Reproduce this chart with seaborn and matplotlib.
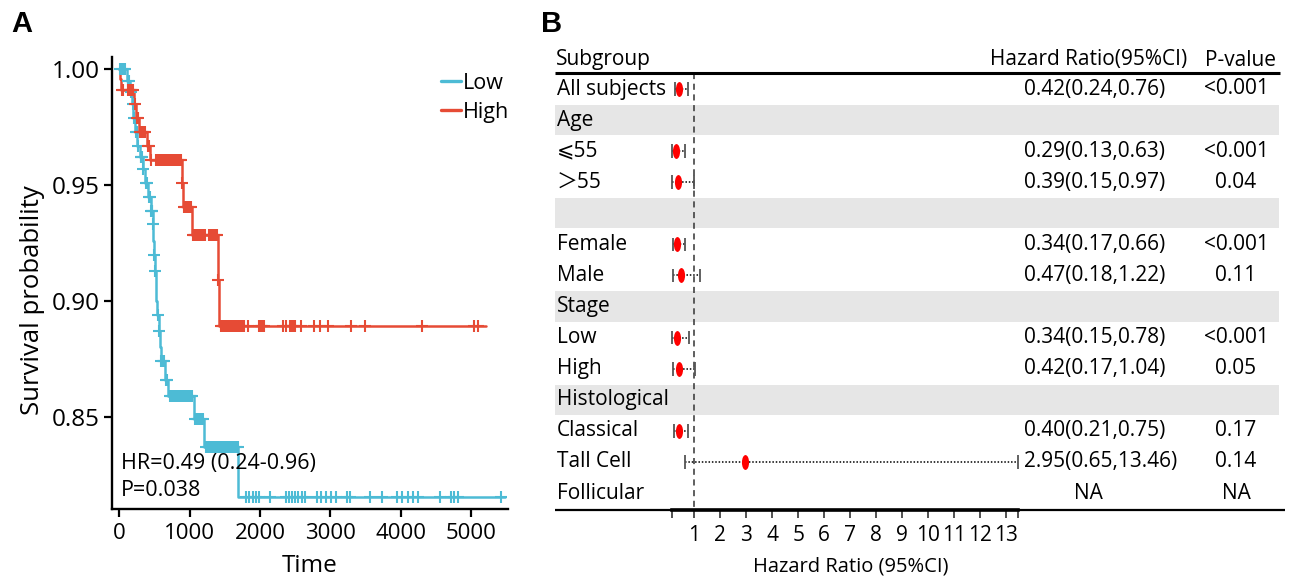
import numpy as np
import pandas as pd
import matplotlib
matplotlib.use("Agg")
import matplotlib.pyplot as plt
import matplotlib.path as mpath
import matplotlib.transforms as mtrans
import seaborn as sns

# ------------------------------------------------------------------
# Panel A data: Kaplan-Meier step curves
# ------------------------------------------------------------------
low_event_times = [0, 110, 160, 185, 200, 220, 260, 295, 335, 365, 410, 450, 475, 485,
                   495, 505, 520, 530, 543, 566, 580, 595, 646, 700, 1060, 1210, 1690]
low_surv = [1.0, 0.995, 0.990, 0.985, 0.979, 0.973, 0.967, 0.962, 0.957, 0.951, 0.945,
            0.939, 0.933, 0.926, 0.920, 0.913, 0.907, 0.900, 0.894, 0.887, 0.880, 0.874,
            0.866, 0.859, 0.849, 0.837, 0.8155]
low_end = 5480
low_censor = [20, 45, 65, 85, 130, 145, 170, 192, 208, 235, 250, 275, 305, 315, 325, 345,
              380, 395, 425, 440, 455, 462, 468, 478, 500, 510, 550, 570, 600, 620, 635,
              660, 680, 720, 740, 760, 780, 800, 820, 840, 860, 900, 920, 940, 960, 980,
              1000, 1020, 1040, 1080, 1100, 1120, 1140, 1160, 1190, 1235, 1260, 1285, 1310,
              1335, 1360, 1385, 1410, 1435, 1460, 1485, 1510, 1535, 1560, 1585, 1610, 1635,
              1660, 1685, 1805, 1850, 1895, 1940, 1986, 2145, 2364, 2410, 2455, 2500, 2545,
              2590, 2636, 2805, 2873, 2940, 3010, 3077, 3236, 3282, 3555, 3736, 3940, 4010,
              4100, 4168, 4236, 4555, 4714, 4760, 4805, 5418]

high_event_times = [0, 15, 25, 215, 240, 290, 400, 445, 890, 905, 1035, 1400, 1425]
high_surv = [1.0, 0.9955, 0.991, 0.985, 0.979, 0.973, 0.967, 0.961, 0.951, 0.9405,
             0.9285, 0.909, 0.889]
high_end = 5210
high_censor = [45, 60, 130, 145, 160, 175, 190, 205, 225, 255, 270, 300, 315, 330, 345,
               360, 375, 415, 430, 460, 520, 540, 560, 580, 600, 620, 640, 660, 680, 700,
               720, 740, 760, 780, 800, 820, 840, 860, 880, 895, 920, 940, 960, 980, 1000,
               1020, 1045, 1065, 1085, 1105, 1125, 1145, 1165, 1185, 1205, 1225, 1270,
               1290, 1310, 1330, 1350, 1370, 1390, 1410, 1440, 1460, 1480, 1500, 1520,
               1540, 1560, 1580, 1600, 1630, 1650, 1670, 1690, 1710, 1730, 1750, 1770,
               1827, 1990, 2010, 2030, 2055, 2327, 2373, 2420, 2445, 2470, 2495, 2577,
               2760, 2850, 2964, 3290, 3486, 4305, 5032, 5100]

group_names = ["Low", "High"]
group_colors = ["#4DBBD5", "#E64B35"]
x_ticks_a = [0, 1000, 2000, 3000, 4000, 5000]
y_ticks_a = [0.85, 0.90, 0.95, 1.00]
hr_text = "HR=0.49 (0.24-0.96)"
p_text = "P=0.038"

# ------------------------------------------------------------------
# Panel B data: subgroup forest plot
# ------------------------------------------------------------------
subgroups = ["All subjects", "Age", "⩽55", "＞55", "", "Female", "Male", "Stage",
             "Low", "High", "Histological", "Classical", "Tall Cell", "Follicular"]
is_band = [False, True, False, False, True, False, False, True,
           False, False, True, False, False, False]
hr = [0.42, np.nan, 0.29, 0.39, np.nan, 0.34, 0.47, np.nan, 0.34, 0.42, np.nan, 0.40, 2.95, np.nan]
hr_lo = [0.24, np.nan, 0.13, 0.15, np.nan, 0.17, 0.18, np.nan, 0.15, 0.17, np.nan, 0.21, 0.65, np.nan]
hr_hi = [0.76, np.nan, 0.63, 0.97, np.nan, 0.66, 1.22, np.nan, 0.78, 1.04, np.nan, 0.75, 13.46, np.nan]
hr_labels = ["0.42(0.24,0.76)", "", "0.29(0.13,0.63)", "0.39(0.15,0.97)", "",
             "0.34(0.17,0.66)", "0.47(0.18,1.22)", "", "0.34(0.15,0.78)", "0.42(0.17,1.04)",
             "", "0.40(0.21,0.75)", "2.95(0.65,13.46)", "NA"]
p_labels = ["<0.001", "", "<0.001", "0.04", "", "<0.001", "0.11", "", "<0.001", "0.05",
            "", "0.17", "0.14", "NA"]
x_ticks_b = list(range(1, 14))

# ------------------------------------------------------------------
sns.set_theme(style="ticks")
plt.rcParams["font.family"] = ["Open Sans", "DejaVu Sans", "Noto Sans CJK SC"]
plt.rcParams["axes.edgecolor"] = "black"
plt.rcParams["xtick.color"] = "black"
plt.rcParams["ytick.color"] = "black"
plt.rcParams["text.color"] = "black"
plt.rcParams["axes.labelcolor"] = "black"

W, H = 1295, 579
fig = plt.figure(figsize=(W / 100, H / 100), dpi=100)


def px_axes(x0, y0, x1, y1):
    return fig.add_axes([x0 / W, 1 - y1 / H, (x1 - x0) / W, (y1 - y0) / H])


# ---------------------------- Panel A -----------------------------
axA = px_axes(112, 57, 508, 509)


def step_frame(times, surv, end):
    t = list(times) + [end]
    s = list(surv) + [surv[-1]]
    return pd.DataFrame({"time": t, "surv": s})


def surv_at(tc, times, surv):
    idx = np.searchsorted(np.asarray(times), np.asarray(tc), side="right") - 1
    return np.asarray(surv)[idx]


curves = [(low_event_times, low_surv, low_end, low_censor),
          (high_event_times, high_surv, high_end, high_censor)]
for (times, surv, end, cens), name, col in zip(curves, group_names, group_colors):
    df = step_frame(times, surv, end)
    sns.lineplot(data=df, x="time", y="surv", drawstyle="steps-post", estimator=None,
                 sort=False, color=col, lw=1.8, ax=axA, label=name)
    cdf = pd.DataFrame({"time": cens, "surv": surv_at(cens, times, surv)})
    sns.scatterplot(data=cdf, x="time", y="surv", marker="+", s=70, color=col,
                    linewidth=1.5, ax=axA, zorder=3, legend=False)

axA.set_xlim(-100, 5520)
axA.set_ylim(0.8103, 1.0052)
axA.set_xticks(x_ticks_a)
axA.set_yticks(y_ticks_a)
axA.set_yticklabels([f"{v:.2f}" for v in y_ticks_a])
sns.despine(ax=axA)
for sp in ["left", "bottom"]:
    axA.spines[sp].set_linewidth(1.7)
axA.tick_params(axis="both", length=6, width=1.6, direction="out")
axA.tick_params(axis="x", labelsize=16, pad=4)
axA.tick_params(axis="y", labelsize=17.5, pad=3)
axA.set_xlabel("Time", fontsize=17.5)
axA.set_ylabel("Survival probability", fontsize=18.5)
axA.xaxis.set_label_coords(0.5, -0.100)
axA.yaxis.set_label_coords(-0.168, 0.462)

hA, lA = axA.get_legend_handles_labels()
leg = axA.legend(hA, lA, loc="upper left", bbox_to_anchor=(0.83, 0.965), frameon=False,
                 fontsize=15.5, handlelength=0.95, handletextpad=0.1, labelspacing=0.38,
                 borderpad=0, borderaxespad=0)
for line in leg.get_lines():
    line.set_linewidth(2.4)

axA.text(0.022, 0.0996, hr_text, transform=axA.transAxes, fontsize=15.5, va="center", ha="left")
axA.text(0.022, 0.042, p_text, transform=axA.transAxes, fontsize=15.5, va="center", ha="left")

# ---------------------------- Panel B -----------------------------
L, R, TOP, BOT = 555, 1285, 45, 510
axB = px_axes(L, TOP, R, BOT)
row0_px, row_h = 89.0, 31.08
hr0_px, hr_unit = 668.3, 26.0
axB.set_xlim((L - hr0_px) / hr_unit, (R - hr0_px) / hr_unit)
axB.set_ylim((BOT - row0_px) / row_h, (TOP - row0_px) / row_h)
y_bottom = (BOT - row0_px) / row_h
y_header = (60 - row0_px) / row_h
y_hline = (73 - row0_px) / row_h

def fx(px):
    return (px - L) / (R - L)

blend = mtrans.blended_transform_factory(axB.transAxes, axB.transData)

n = len(subgroups)
rows = np.arange(n)
for r in rows:
    if is_band[r]:
        axB.axhspan(r - 0.485, r + 0.485, xmin=0, xmax=fx(1279), color="#E6E6E6", lw=0, zorder=0)

fdf = pd.DataFrame({"row": rows, "hr": hr, "lo": hr_lo, "hi": hr_hi}).dropna()
axB.hlines(fdf["row"], fdf["lo"], fdf["hi"], colors="black", linestyles=(0, (1, 1.2)), lw=1.1, zorder=2)
axB.vlines(np.r_[fdf["lo"].values, fdf["hi"].values], np.r_[fdf["row"].values, fdf["row"].values] - 0.22,
           np.r_[fdf["row"].values, fdf["row"].values] + 0.22, colors="#555555", lw=1.3, zorder=2)

circ = mpath.Path.unit_circle()
ellipse = mpath.Path(circ.vertices * np.array([0.48, 1.0]), circ.codes)
sns.scatterplot(data=fdf, x="hr", y="row", marker=ellipse, s=115, color="#FF0000",
                linewidth=0, ax=axB, zorder=4, legend=False)

axB.vlines(1, y_hline, y_bottom, colors="#333333", linestyles=(0, (4, 3)), lw=1.1, zorder=1)

# header and borders
axB.plot([0, fx(1280)], [y_hline, y_hline], transform=blend, color="black", lw=2.2,
         clip_on=False, solid_capstyle="butt")
axB.plot([0, 1], [y_bottom, y_bottom], transform=blend, color="black", lw=1.6,
         clip_on=False, solid_capstyle="butt")

fs = 15
axB.text(fx(556), y_header, "Subgroup", transform=blend, fontsize=fs, ha="left", va="center")
axB.text(fx(1088.5), y_header, "Hazard Ratio(95%CI)", transform=blend, fontsize=fs, ha="center", va="center")
axB.text(fx(1240.5), y_header, "P-value", transform=blend, fontsize=fs, ha="center", va="center")

for r in rows:
    axB.text(fx(557), r, subgroups[r], transform=blend, fontsize=fs, ha="left", va="center")
    lab = hr_labels[r]
    if lab == "NA":
        axB.text(fx(1088), r, lab, transform=blend, fontsize=fs, ha="center", va="center")
    elif lab:
        axB.text(fx(1024), r, lab, transform=blend, fontsize=fs, ha="left", va="center")
    if p_labels[r]:
        axB.text(fx(1236), r, p_labels[r], transform=blend, fontsize=fs, ha="center", va="center")

# HR axis
lo_min = float(np.nanmin(hr_lo))
hi_max = float(np.nanmax(hr_hi))
axB.set_xticks([lo_min] + x_ticks_b + [hi_max])
axB.set_xticklabels([""] + [str(v) for v in x_ticks_b] + [""])
axB.set_yticks([])
axB.set_ylabel("")
for sp in ["top", "right", "left"]:
    axB.spines[sp].set_visible(False)
axB.spines["bottom"].set_bounds(lo_min, hi_max)
axB.spines["bottom"].set_linewidth(2.6)
axB.tick_params(axis="x", length=6, width=1.2, labelsize=15, pad=5, color="#333333")
axB.set_xlabel("Hazard Ratio (95%CI)", fontsize=14.5)
axB.xaxis.set_label_coords(fx(851), -0.099)

# panel letters
fig.text(11 / W, 1 - 24 / H, "A", fontsize=21, weight="bold", family="Liberation Sans", va="center", ha="left")
fig.text(541 / W, 1 - 24 / H, "B", fontsize=21, weight="bold", family="Liberation Sans", va="center", ha="left")

fig.savefig("out.png", dpi=100)
